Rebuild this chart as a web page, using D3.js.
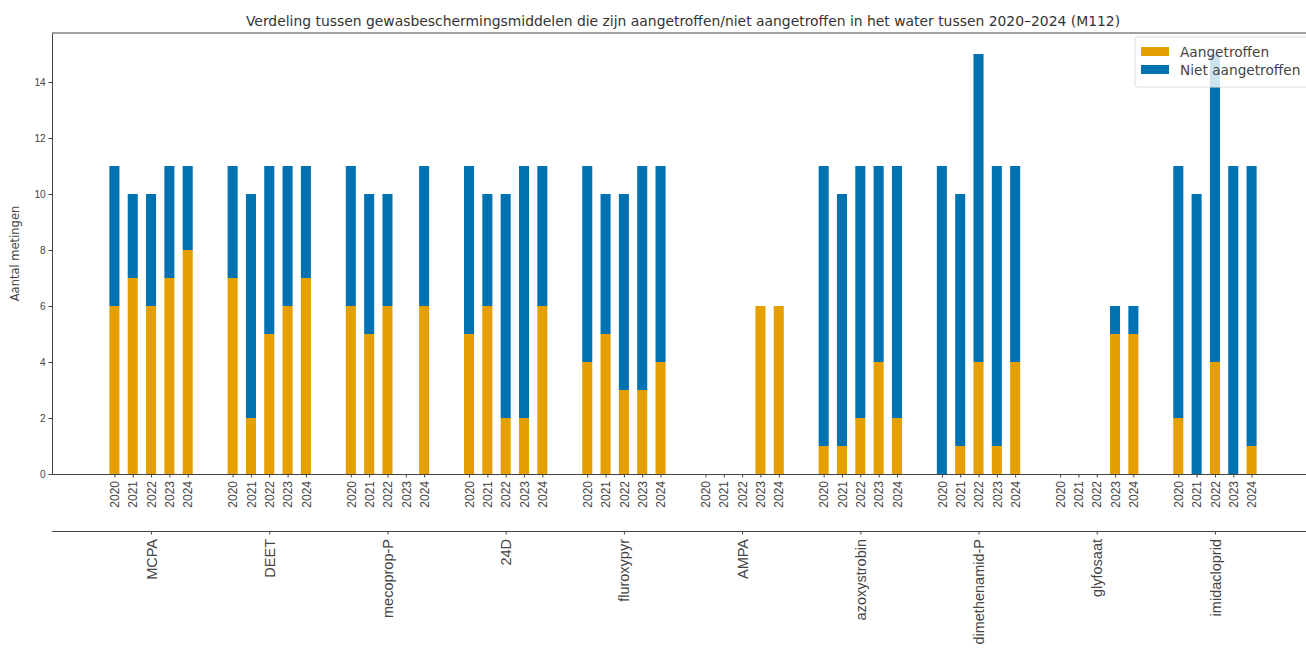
<!DOCTYPE html>
<html>
<head>
<meta charset="utf-8">
<script src="https://cdn.jsdelivr.net/npm/d3@7"></script>
<style>
  body { margin: 0; background: #fff; }
  svg { display: block; font-family: "DejaVu Sans", sans-serif; }
</style>
</head>
<body>
<svg width="1306" height="652"></svg>
<script>
const width = 1306, height = 652;

// data
const compounds = ["MCPA", "DEET", "mecoprop-P", "24D", "fluroxypyr", "AMPA",
                   "azoxystrobin", "dimethenamid-P", "glyfosaat", "imidacloprid"];
const years = ["2020", "2021", "2022", "2023", "2024"];
const aangetroffen = [
  [6, 7, 6, 7, 8], [7, 2, 5, 6, 7], [6, 5, 6, 0, 6], [5, 6, 2, 2, 6], [4, 5, 3, 3, 4],
  [0, 0, 0, 6, 6], [1, 1, 2, 4, 2], [0, 1, 4, 1, 4], [0, 0, 0, 5, 5], [2, 0, 4, 0, 1]
];
const nietAangetroffen = [
  [5, 3, 4, 4, 3], [4, 8, 6, 5, 4], [5, 5, 4, 0, 5], [6, 4, 8, 9, 5], [7, 5, 7, 8, 7],
  [0, 0, 0, 0, 0], [10, 9, 9, 7, 9], [11, 9, 11, 10, 7], [0, 0, 0, 1, 1], [9, 10, 11, 11, 10]
];
const yTicks = [0, 2, 4, 6, 8, 10, 12, 14];
const colors = { found: "#E69F00", notFound: "#0072B2" };

const yearStep = 0.155, barW = 0.085;
const svg = d3.select("svg");

const x = d3.scaleLinear().domain([-0.838, 9.838]).range([52, 1314]);
const y = d3.scaleLinear().domain([0, 15.75]).range([474, 33]);

// flatten into one row per bar
const bars = [];
compounds.forEach((c, i) => {
  years.forEach((yr, j) => {
    bars.push({
      pos: i + (j - 2) * yearStep,
      year: yr,
      found: aangetroffen[i][j],
      notFound: nietAangetroffen[i][j]
    });
  });
});

const plot = svg.append("g");

// Aangetroffen (bottom)
plot.selectAll(".found")
  .data(bars.filter(d => d.found > 0))
  .join("rect")
  .attr("class", "found")
  .attr("x", d => x(d.pos - barW / 2))
  .attr("width", x(barW) - x(0))
  .attr("y", d => y(d.found))
  .attr("height", d => y(0) - y(d.found))
  .attr("fill", colors.found);

// Niet aangetroffen (stacked on top)
plot.selectAll(".notfound")
  .data(bars.filter(d => d.notFound > 0))
  .join("rect")
  .attr("class", "notfound")
  .attr("x", d => x(d.pos - barW / 2))
  .attr("width", x(barW) - x(0))
  .attr("y", d => y(d.found + d.notFound))
  .attr("height", d => y(d.found) - y(d.found + d.notFound))
  .attr("fill", colors.notFound);

// y axis
const yAxis = svg.append("g")
  .attr("transform", `translate(${x.range()[0]},0)`)
  .call(d3.axisLeft(y).tickValues(yTicks).tickSize(3.5).tickSizeOuter(0).tickPadding(3));
yAxis.selectAll("text").attr("font-size", 10).attr("fill", "#444");

// top spine
svg.append("line")
  .attr("x1", x.range()[0]).attr("x2", width)
  .attr("y1", y.range()[1]).attr("y2", y.range()[1])
  .attr("stroke", "#444");

// year axis
const yearAxis = svg.append("g")
  .attr("transform", `translate(0,${y(0)})`)
  .call(d3.axisBottom(x)
    .tickValues(bars.map(d => d.pos))
    .tickFormat((d, i) => bars[i].year)
    .tickSize(3.5).tickSizeOuter(0));
yearAxis.select(".domain").attr("d", `M${x.range()[0]},0.5H${width}`);
yearAxis.selectAll("text")
  .attr("font-size", 12)
  .attr("fill", "#444")
  .attr("transform", "rotate(-90)")
  .attr("text-anchor", "end")
  .attr("x", -7)
  .attr("y", 0)
  .attr("dy", "0.35em");

// compound axis below the years
const compAxis = svg.append("g")
  .attr("transform", "translate(0,531)")
  .call(d3.axisBottom(x)
    .tickValues(d3.range(compounds.length))
    .tickFormat(i => compounds[i])
    .tickSize(3.5).tickSizeOuter(0));
compAxis.select(".domain").attr("d", `M${x.range()[0]},0.5H${width}`);
compAxis.selectAll("text")
  .attr("font-size", 14.5)
  .attr("fill", "#444")
  .attr("transform", "rotate(-90)")
  .attr("text-anchor", "end")
  .attr("x", -8)
  .attr("y", 0)
  .attr("dy", "0.35em");

svg.selectAll(".domain, .tick line").attr("stroke", "#444");

// y label
svg.append("text")
  .attr("transform", `translate(19,${(y.range()[0] + y.range()[1]) / 2}) rotate(-90)`)
  .attr("text-anchor", "middle")
  .attr("font-size", 11.5)
  .attr("fill", "#444")
  .text("Aantal metingen");

// title
svg.append("text")
  .attr("x", (x.range()[0] + x.range()[1]) / 2)
  .attr("y", 26)
  .attr("text-anchor", "middle")
  .attr("font-size", 13.9)
  .attr("fill", "#333")
  .text("Verdeling tussen gewasbeschermingsmiddelen die zijn aangetroffen/niet aangetroffen in het water tussen 2020\u20132024 (M112)");

// legend
const legend = svg.append("g").attr("transform", "translate(1135,37)");
legend.append("rect")
  .attr("width", 180).attr("height", 50).attr("rx", 3)
  .attr("fill", "#fff").attr("fill-opacity", 0.8)
  .attr("stroke", "#ddd");
const legendItems = [
  { label: "Aangetroffen", color: colors.found },
  { label: "Niet aangetroffen", color: colors.notFound }
];
legendItems.forEach((d, i) => {
  legend.append("rect")
    .attr("x", 6).attr("y", 10 + i * 18)
    .attr("width", 28).attr("height", 9)
    .attr("fill", d.color);
  legend.append("text")
    .attr("x", 45).attr("y", 15 + i * 18)
    .attr("dy", "0.35em")
    .attr("font-size", 13.7)
    .attr("fill", "#444")
    .text(d.label);
});
</script>
</body>
</html>
